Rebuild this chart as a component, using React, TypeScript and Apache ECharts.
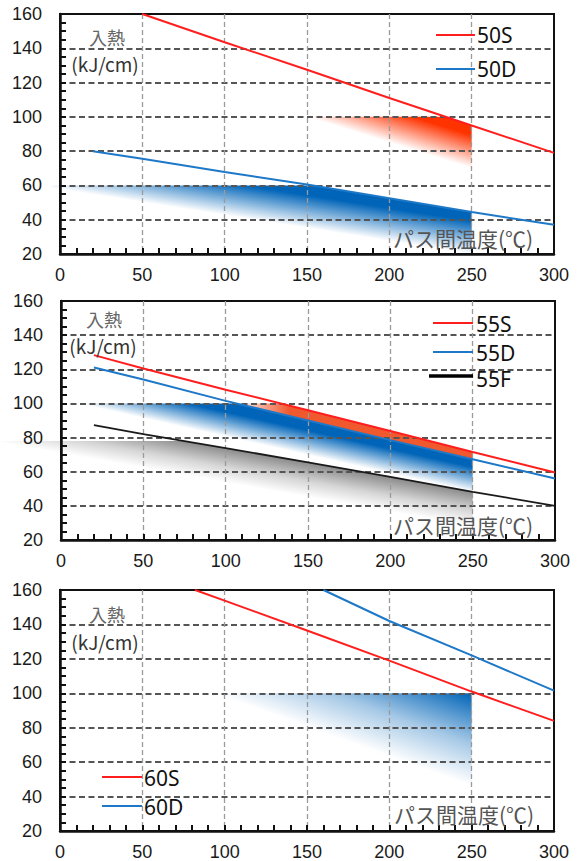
import React, { useEffect, useRef } from 'react';
import * as echarts from 'echarts';

// ---------- data (x: パス間温度 ℃, y: 入熱 kJ/cm) ----------
const xMin = 0, xMax = 300, xStep = 50;
const yMin = 20, yMax = 160, yStep = 20;

// panel 1
const line50S = [[50, 160], [100, 143.5], [150, 127.5], [200, 111], [250, 95], [300, 79]];
const line50D = [[20, 80], [50, 75.5], [100, 67.8], [150, 60.5], [200, 52.5], [250, 44.5], [300, 37]];
const area50S = [[150, 100], [234, 100], [250, 95], [250, 70]];
const area50SEdge = [[250, 70], [150, 100]];
const area50SPeak = [246, 97];
const area50D = [[-5, 60], [153, 60], [200, 52.5], [250, 44.5], [250, 20], [-5, 58.5]];
const area50DEdge = [[250, 20], [-5, 58.5]];
const area50DPeak = [248, 46];

// panel 2
const line55S = [[20, 128.3], [50, 120.5], [100, 108], [150, 96], [200, 83.8], [250, 71.6], [300, 59.5]];
const line55D = [[20, 121], [50, 114], [100, 101.5], [150, 90], [200, 78.5], [250, 67.3], [300, 56]];
const line55F = [[20, 87.3], [50, 82], [100, 73.8], [150, 65.5], [200, 57], [250, 48.2], [300, 40]];
const area55S = [[106, 100], [134, 100], [150, 96], [200, 83.8], [250, 71.6], [250, 67.3], [200, 78.5], [150, 90], [106, 100]];
const area55SEdge = [[105, 60], [105, 120]];
const area55SPeak = [150, 88];
const area55D = [[10, 100], [106, 100], [150, 90], [200, 78.5], [250, 67.3], [250, 48.2]];
const area55DEdge = [[250, 48.2], [10, 100]];
const area55DPeak = [248, 68];
const area55F = [[-37, 78], [75, 78], [100, 73.8], [150, 65.5], [200, 57], [250, 48.2], [250, 28], [-37, 77.2]];
const area55FEdge = [[250, 28], [-37, 77.2]];
const area55FPeak = [248, 49];

// panel 3
const line60S = [[82, 160], [100, 153.8], [150, 136.5], [200, 119], [250, 101], [300, 84]];
const line60D = [[160, 160], [200, 142], [250, 122], [300, 101.5]];
const area60D = [[93, 100], [250, 100], [250, 46]];
const area60DEdge = [[250, 46], [93, 100]];
const area60DPeak = [250, 100];

// texts
const yTitle1 = '入熱';
const yTitle2 = '(kJ/cm)';
const xTitle = 'パス間温度(℃)';
const names1 = ['50S', '50D'];
const names2 = ['55S', '55D', '55F'];
const names3 = ['60S', '60D'];

// ---------- styles ----------
const RED = '#ff1e1e';
const BLUE = '#1e78c8';
const BLACK = '#1a1a1a';
const TICK_FONT = '"Liberation Sans", Arial, sans-serif';
const JP_FONT = '"Noto Sans CJK JP", "Noto Sans", sans-serif';
const LEG_FONT = '"Noto Sans", "Liberation Sans", sans-serif';

const STRONG = [[0, 0], [0.3, 0.4], [0.75, 1], [1, 1]];
const SOFT = [[0, 0], [0.45, 0.35], [1, 1]];

const grids = [
  { left: 60, top: 14, width: 494, height: 240 },
  { left: 61, top: 301, width: 494, height: 239 },
  { left: 60, top: 590, width: 494, height: 243 },
];

function hexToRgb(h: string) {
  const n = parseInt(h.slice(1), 16);
  return [(n >> 16) & 255, (n >> 8) & 255, n & 255];
}
function rgba(h: string, a: number) {
  const [r, g, b] = hexToRgb(h);
  return `rgba(${r},${g},${b},${a})`;
}

function regionSeries(gi: number, poly: number[][], edge: number[][], peak: number[], color: string, maxA = 1, curve = STRONG) {
  return {
    type: 'custom',
    xAxisIndex: gi,
    yAxisIndex: gi,
    z: 1,
    silent: true,
    clip: false,
    data: [[150, 90]],
    renderItem: (_params: any, api: any) => {
      const pts = poly.map((p) => api.coord(p));
      const a = api.coord(edge[0]);
      const b = api.coord(edge[1]);
      const o = api.coord(peak);
      const dx = b[0] - a[0];
      const dy = b[1] - a[1];
      const t = ((o[0] - a[0]) * dx + (o[1] - a[1]) * dy) / (dx * dx + dy * dy);
      const f = [a[0] + t * dx, a[1] + t * dy];
      const grad = new echarts.graphic.LinearGradient(
        f[0], f[1], o[0], o[1],
        curve.map(([off, al]) => ({ offset: off, color: rgba(color, al * maxA) })),
        true
      );
      return { type: 'polygon', shape: { points: pts }, style: { fill: grad } };
    },
  };
}

function lineSeries(gi: number, name: string, data: number[][], color: string, width: number) {
  return {
    type: 'line',
    name,
    xAxisIndex: gi,
    yAxisIndex: gi,
    data,
    showSymbol: false,
    symbol: 'none',
    z: 5,
    lineStyle: { color, width },
  };
}

function txt(x: number, y: number, text: string, size: number, color: string, family: string, align = 'left') {
  return {
    type: 'text',
    x,
    y,
    z: 10,
    silent: true,
    style: {
      text,
      fill: color,
      fontSize: size,
      fontFamily: family,
      align,
      verticalAlign: 'middle',
      textAlign: align,
      textVerticalAlign: 'middle',
    },
  };
}
function seg(x1: number, x2: number, y: number, color: string, w: number) {
  return {
    type: 'line',
    z: 10,
    silent: true,
    shape: { x1, y1: y, x2, y2: y },
    style: { stroke: color, lineWidth: w },
  };
}

export default function App() {
  const ref = useRef<HTMLDivElement>(null);
  useEffect(() => {
    document.body.style.margin = '0';
    const chart = echarts.init(ref.current!, null, { renderer: 'svg' });

    const xAxes = grids.map((_, i) => ({
      gridIndex: i,
      type: 'value',
      min: xMin,
      max: xMax,
      interval: xStep,
      z: 3,
      axisLine: { show: true, onZero: false, lineStyle: { color: '#111', width: 2.5 } },
      axisTick: { show: true, inside: true, length: 6, lineStyle: { color: '#111', width: 2 } },
      minorTick: { show: true, splitNumber: 5, length: 6, lineStyle: { color: '#111', width: 2 } },
      axisLabel: { margin: 12, fontSize: 18, color: '#1a1a1a', fontFamily: TICK_FONT },
      splitLine: { show: true, showMinLine: false, showMaxLine: false, lineStyle: { color: '#9a9a9a', width: 1.3, type: [5, 3] } },
    }));
    const yAxes = grids.map((_, i) => ({
      gridIndex: i,
      type: 'value',
      min: yMin,
      max: yMax,
      interval: yStep,
      z: 3,
      axisLine: { show: true, onZero: false, lineStyle: { color: '#111', width: 2.5 } },
      axisTick: { show: true, inside: true, length: 6, lineStyle: { color: '#111', width: 2 } },
      minorTick: { show: true, splitNumber: 4, length: 6, lineStyle: { color: '#111', width: 2 } },
      axisLabel: { margin: 18, fontSize: 18, color: '#1a1a1a', fontFamily: TICK_FONT },
      splitLine: { show: true, showMinLine: false, showMaxLine: false, lineStyle: { color: '#555', width: 2, type: [6, 3.5] } },
    }));

    const option: any = {
      animation: false,
      grid: grids.map((g) => ({ ...g, show: true, borderColor: '#111', borderWidth: 2, backgroundColor: 'transparent' })),
      xAxis: xAxes,
      yAxis: yAxes,
      series: [
        regionSeries(0, area50S, area50SEdge, area50SPeak, '#ff3300'),
        regionSeries(0, area50D, area50DEdge, area50DPeak, '#0064b8'),
        regionSeries(1, area55F, area55FEdge, area55FPeak, '#606060', 0.75, SOFT),
        regionSeries(1, area55D, area55DEdge, area55DPeak, '#0064b8'),
        regionSeries(1, area55S, area55SEdge, area55SPeak, '#f0582e'),
        regionSeries(2, area60D, area60DEdge, area60DPeak, '#0064b8', 1, SOFT),
        lineSeries(0, names1[0], line50S, RED, 2),
        lineSeries(0, names1[1], line50D, BLUE, 2),
        lineSeries(1, names2[0], line55S, RED, 2),
        lineSeries(1, names2[1], line55D, BLUE, 2),
        lineSeries(1, names2[2], line55F, BLACK, 1.8),
        lineSeries(2, names3[0], line60S, RED, 2),
        lineSeries(2, names3[1], line60D, BLUE, 2),
      ],
      graphic: {
        elements: [
          // panel 1
          txt(107, 37, yTitle1, 18, '#666', JP_FONT, 'center'),
          txt(105, 63, yTitle2, 19, '#333', JP_FONT, 'center'),
          seg(436, 475, 35, RED, 2),
          txt(477, 35, names1[0], 21, '#111', LEG_FONT),
          seg(436, 475, 69, BLUE, 2),
          txt(477, 69, names1[1], 21, '#111', LEG_FONT),
          txt(393, 238, xTitle, 21, '#555', JP_FONT),
          // panel 2
          txt(104, 319, yTitle1, 18, '#666', JP_FONT, 'center'),
          txt(103, 345, yTitle2, 19, '#333', JP_FONT, 'center'),
          seg(433, 473, 323, RED, 2),
          txt(476, 324, names2[0], 21, '#111', LEG_FONT),
          seg(433, 473, 352, BLUE, 2),
          txt(476, 353, names2[1], 21, '#111', LEG_FONT),
          seg(429, 473, 376, '#000', 3.5),
          txt(476, 379, names2[2], 21, '#111', LEG_FONT),
          txt(393, 525, xTitle, 21, '#555', JP_FONT),
          // panel 3
          txt(107, 614, yTitle1, 18, '#666', JP_FONT, 'center'),
          txt(105, 641, yTitle2, 19, '#333', JP_FONT, 'center'),
          seg(102, 142, 777, RED, 2),
          txt(144, 778, names3[0], 21, '#111', LEG_FONT),
          seg(102, 142, 806, BLUE, 2),
          txt(144, 807, names3[1], 21, '#111', LEG_FONT),
          txt(394, 814, xTitle, 21, '#555', JP_FONT),
        ],
      },
    };
    chart.setOption(option);
    return () => chart.dispose();
  }, []);
  return <div ref={ref} style={{ width: 581, height: 861 }} />;
}
